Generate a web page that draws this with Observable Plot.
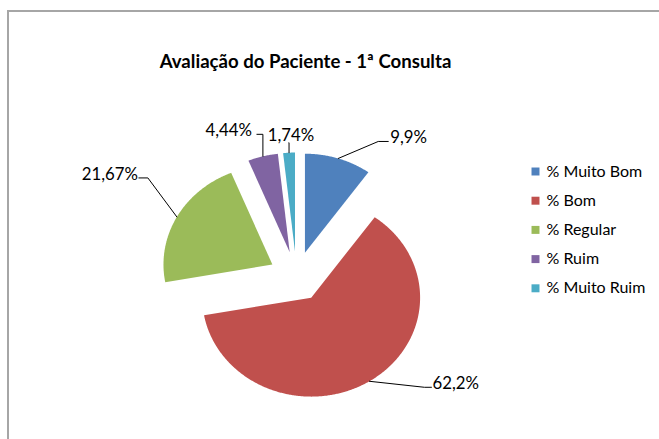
<!DOCTYPE html>
<html><head><meta charset="utf-8">
<script src="https://cdn.jsdelivr.net/npm/d3@7"></script>
<script src="https://cdn.jsdelivr.net/npm/@observablehq/plot@0.6"></script>
<style>
body{margin:0;background:#fff;}
#wrap{position:relative;width:659px;height:439px;overflow:hidden;font-family:Lato,"Open Sans",sans-serif;}
#frame{position:absolute;left:7px;top:10px;width:800px;height:600px;border-left:2px solid #a6a6a6;border-top:2px solid #a6a6a6;}
#title{position:absolute;left:0;width:611px;top:50px;height:22px;line-height:22px;text-align:center;font-weight:bold;font-size:18.6px;color:#000;}
#chart{position:absolute;left:0;top:80px;}
</style></head>
<body>
<div id="wrap">
  <div id="frame"></div>
  <div id="title">Avaliação do Paciente - 1ª Consulta</div>
  <div id="chart"></div>
</div>
<script>
// ---- data ----
const categories = ["% Muito Bom", "% Bom", "% Regular", "% Ruim", "% Muito Ruim"];
const values = [9.9, 62.2, 21.67, 4.44, 1.74];
const colors = ["#4F81BD", "#C0504D", "#9BBB59", "#8064A2", "#4BACC6"];

// ---- layout ----
const CX = 296, CY = 276, R = 99, EXPLODE = 25, SX = 1.1;
const leaderLayout = [
  {dx: 40, dy: -17, h: 10, tdx: 2, tdy: -3.5, anchor: "start"},
  {dx: 55, dy: 6, h: 7, tdx: 1, tdy: -4, anchor: "start"},
  {dx: -29, dy: -39, h: -9, tdx: -1, tdy: -3, anchor: "end"},
  {dx: 0, dy: -22, h: -6, tdx: -5, tdy: -3.5, anchor: "end"},
  {dx: 0, dy: -10, h: 0, tdx: 2, tdy: -7.5, anchor: "middle"}
];
const legendX = 535, legendY0 = 171, legendStep = 29.2;
const labelSize = 16.8, legendSize = 16;

const total = d3.sum(values);
let acc = 0;
const slices = values.map((v, i) => {
  const a0 = acc / total * 2 * Math.PI;
  acc += v;
  const a1 = acc / total * 2 * Math.PI;
  return {i, cat: categories[i], value: v, a0, a1, mid: (a0 + a1) / 2};
});
function pt(s, r, t) {
  return [CX + SX * (EXPLODE * Math.sin(s.mid) + r * Math.sin(t)),
          CY - (EXPLODE * Math.cos(s.mid) + r * Math.cos(t))];
}
const poly = [];
for (const s of slices) {
  const [ax, ay] = pt(s, 0, 0);
  poly.push({cat: s.cat, x: ax, y: ay});
  const n = Math.max(2, Math.ceil((s.a1 - s.a0) / (Math.PI / 360)));
  for (let k = 0; k <= n; k++) {
    const t = s.a0 + (s.a1 - s.a0) * k / n;
    const [x, y] = pt(s, R, t);
    poly.push({cat: s.cat, x, y});
  }
}
const leaders = [], texts = [];
for (const s of slices) {
  const L = leaderLayout[s.i];
  const [x0, y0] = pt(s, R, s.mid);
  const x1 = x0 + L.dx, y1 = y0 + L.dy;
  const x2 = x1 + L.h, y2 = y1;
  leaders.push({k: s.i, x: x0, y: y0}, {k: s.i, x: x1, y: y1}, {k: s.i, x: x2, y: y2});
  texts.push({x: x2 + L.tdx, y: y2 + L.tdy, anchor: L.anchor,
              label: String(s.value).replace(".", ",") + "%"});
}
const legend = categories.map((c, i) => ({cat: c, y: legendY0 + i * legendStep}));

const chart = Plot.plot({
  width: 659, height: 359, margin: 0,
  style: {background: "transparent", fontFamily: "Lato, 'Open Sans', sans-serif"},
  x: {domain: [0, 659], range: [0, 659], axis: null},
  y: {domain: [80, 439], range: [0, 359], axis: null},
  color: {domain: categories, range: colors},
  marks: [
    Plot.line(poly, {x: "x", y: "y", z: "cat", fill: "cat", stroke: "none", curve: "linear-closed"}),
    Plot.line(leaders, {x: "x", y: "y", z: "k", stroke: "#000", strokeWidth: 1}),
    Plot.text(texts.filter(d => d.anchor === "start"), {x: "x", y: "y", text: "label", textAnchor: "start", fontSize: labelSize, fill: "#000"}),
    Plot.text(texts.filter(d => d.anchor === "end"), {x: "x", y: "y", text: "label", textAnchor: "end", fontSize: labelSize, fill: "#000"}),
    Plot.text(texts.filter(d => d.anchor === "middle"), {x: "x", y: "y", text: "label", textAnchor: "middle", fontSize: labelSize, fill: "#000"}),
    Plot.dot(legend, {x: legendX, y: "y", fill: "cat", symbol: "square", r: 4.5, stroke: "none"}),
    Plot.text(legend, {x: legendX + 11, y: "y", text: "cat", textAnchor: "start", fontSize: legendSize, fill: "#000"})
  ]
});
document.getElementById("chart").appendChild(chart);
</script>
</body></html>
